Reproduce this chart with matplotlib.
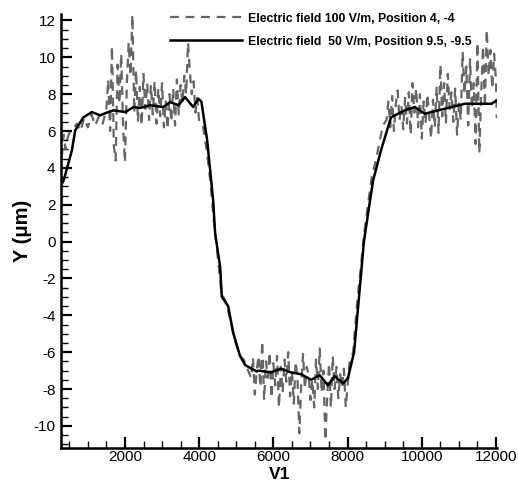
import matplotlib
matplotlib.use("Agg")
import matplotlib.pyplot as plt
from matplotlib.ticker import MultipleLocator

plt.rcParams['font.family'] = ['Liberation Sans', 'DejaVu Sans']
plt.rcParams['axes.unicode_minus'] = False

# solid curve: Electric field 50 V/m
x_50 = [290, 350, 570, 660, 880, 1110, 1330, 1550, 1690, 2015, 2230, 2410, 2680,
        3030, 3220, 3440, 3620, 3840, 3980, 4060, 4215, 4377, 4430, 4565, 4610,
        4780, 4920, 5100, 5240, 5550, 5590, 5940, 6200, 6480, 6750, 7020, 7250,
        7470, 7650, 7880, 8010, 8175, 8440, 8550, 8686, 8900, 9170, 9540, 9810,
        10080, 10440, 10800, 11160, 11520, 11880, 12020]
y_50 = [3.1, 3.33, 4.95, 6.04, 6.74, 7.03, 6.85, 7.03, 7.12, 7.03, 7.3, 7.25, 7.4,
        7.3, 7.57, 7.4, 7.84, 7.3, 7.75, 7.6, 5.5, 2.24, 0.45, -1.37, -2.99,
        -3.5, -4.97, -6.2, -6.7, -7.05, -7.0, -7.1, -6.9, -7.1, -7.2, -7.5, -7.25,
        -7.8, -7.3, -7.7, -7.4, -6.0, 0.0, 1.5, 3.3, 4.95, 6.74, 7.12, 7.3,
        6.94, 7.12, 7.3, 7.48, 7.48, 7.48, 7.66]

# dashed curve: Electric field 100 V/m
x_100 = [300, 350, 400, 450, 500, 600, 700, 800, 900, 1000, 1100, 1200, 1300, 1400,
         1500, 1550, 1600, 1650, 1700, 1750, 1800, 1850, 1900, 1950, 2000, 2050,
         2100, 2150, 2200, 2250, 2300, 2350, 2400, 2450, 2500, 2550, 2600, 2650,
         2700, 2750, 2800, 2850, 2900, 2950, 3000, 3050, 3100, 3150, 3200, 3250,
         3300, 3350, 3400, 3450, 3500, 3550, 3600, 3650, 3700, 3750, 3800, 3850,
         3900, 3950, 4000, 4100, 4200, 4300, 4400, 4500, 4600, 4700, 4800, 4900,
         5000, 5100, 5200, 5300, 5400, 5450, 5500, 5550, 5600, 5650, 5700, 5750,
         5800, 5850, 5900, 5950, 6000, 6050, 6100, 6150, 6200, 6250, 6300, 6350,
         6400, 6450, 6500, 6550, 6600, 6650, 6700, 6750, 6800, 6850, 6900, 6950,
         7000, 7050, 7100, 7150, 7200, 7250, 7300, 7350, 7400, 7450, 7500, 7550,
         7600, 7650, 7700, 7750, 7800, 7850, 7900, 7950, 8000, 8050, 8150, 8250,
         8350, 8450, 8550, 8650, 8750, 8850, 8950, 9050, 9100, 9150, 9200, 9250,
         9300, 9350, 9400, 9450, 9500, 9550, 9600, 9650, 9700, 9750, 9800, 9850,
         9900, 9950, 10000, 10050, 10100, 10150, 10200, 10250, 10300, 10350, 10400,
         10450, 10500, 10550, 10600, 10650, 10700, 10750, 10800, 10850, 10900,
         10950, 11000, 11050, 11100, 11150, 11200, 11250, 11300, 11350, 11400,
         11450, 11500, 11550, 11600, 11650, 11700, 11750, 11800, 11850, 11900,
         11950, 12000, 12020]
y_100 = [4.6, 5.8, 5.0, 5.6, 5.9, 6.1, 6.4, 6.0, 6.7, 6.2, 6.9, 6.3, 6.8, 6.4,
         7.2, 8.8, 6.0, 10.6, 5.2, 4.4, 9.6, 7.5, 10.2, 6.2, 4.3, 8.5,
         10.8, 9.0, 12.3, 7.0, 9.3, 6.5, 8.4, 6.3, 9.1, 7.2, 8.6, 6.6,
         8.5, 6.9, 8.7, 6.4, 8.3, 6.8, 8.6, 6.2, 7.6, 6.1, 8.0, 6.5,
         8.3, 6.3, 8.8, 6.9, 8.5, 7.5, 9.0, 8.0, 10.8, 9.2, 8.0, 8.7,
         7.0, 7.8, 6.5, 6.3, 5.0, 3.3, 1.0, -0.8, -2.8, -3.2, -3.9, -4.8,
         -5.6, -6.2, -6.4, -6.9, -7.4, -6.3, -8.3, -7.0, -6.2, -7.9, -5.4, -8.6,
         -6.5, -7.4, -6.0, -8.5, -6.6, -7.8, -6.2, -9.0, -6.8, -8.2, -6.4, -7.6,
         -6.0, -8.4, -7.0, -8.8, -6.5, -7.5, -10.4, -7.8, -6.1, -8.0, -6.8, -7.2,
         -8.6, -7.5, -9.0, -6.4, -8.0, -5.8, -8.2, -7.0, -10.8, -8.4, -6.6, -9.0,
         -6.2, -8.0, -6.8, -8.5, -7.2, -7.9, -6.9, -9.0, -7.8, -6.6, -6.0, -3.5,
         -1.5, 0.5, 2.0, 3.5, 4.3, 5.3, 6.3, 6.6, 7.6, 6.2, 7.9, 6.0,
         7.5, 8.2, 6.6, 7.4, 6.1, 7.8, 6.4, 8.1, 5.8, 8.6, 7.0, 8.3,
         6.2, 8.0, 5.6, 7.6, 6.4, 8.0, 6.8, 5.6, 7.7, 6.2, 8.4,
         5.9, 9.6, 6.8, 8.6, 6.4, 9.1, 7.2, 8.1, 6.5, 8.3,
         5.8, 7.5, 6.6, 10.3, 8.0, 9.5, 6.3, 9.9, 7.2, 8.6,
         5.3, 10.8, 4.8, 8.0, 10.6, 7.3, 11.5, 9.0, 10.4, 8.3,
         10.2, 8.7, 6.7]

label_100 = "Electric field 100 V/m, Position 4, -4"
label_50 = "Electric field  50 V/m, Position 9.5, -9.5"

fig = plt.figure(figsize=(5.18, 4.83), dpi=100)
ax = fig.add_axes([0.118, 0.0725, 0.841, 0.8985])

ax.plot(x_100, y_100, color="#666666", lw=1.6, ls=(0, (4, 3)), label=label_100)
ax.plot(x_50, y_50, color="black", lw=1.8, label=label_50)

ax.set_xlim(280, 12020)
ax.set_ylim(-11.2, 12.35)

ax.xaxis.set_major_locator(MultipleLocator(2000))
ax.xaxis.set_minor_locator(MultipleLocator(500))
ax.yaxis.set_major_locator(MultipleLocator(2))
ax.yaxis.set_minor_locator(MultipleLocator(0.5))

for side in ["top", "right"]:
    ax.spines[side].set_visible(False)
for side in ["left", "bottom"]:
    ax.spines[side].set_linewidth(1.8)

ax.tick_params(which="major", direction="in", length=8, width=1.6, labelsize=11, pad=4)
ax.tick_params(axis="x", which="major", pad=1.5)
ax.tick_params(which="minor", direction="in", length=5, width=1.0)

ax.set_xlabel("V1", fontsize=12.5, fontweight="bold")
ax.xaxis.set_label_coords(0.502, -0.043)
ax.set_ylabel("Y (\u03bcm)", fontsize=14.5, fontweight="bold", labelpad=1)

ax.legend(loc="upper left", bbox_to_anchor=(0.328, 0.974), bbox_transform=fig.transFigure,
          frameon=False, prop={"weight": "bold", "size": 8.8}, handlelength=5.9,
          handletextpad=0.45, labelspacing=0.9, borderpad=0, borderaxespad=0)

fig.savefig("out.png", dpi=100)
